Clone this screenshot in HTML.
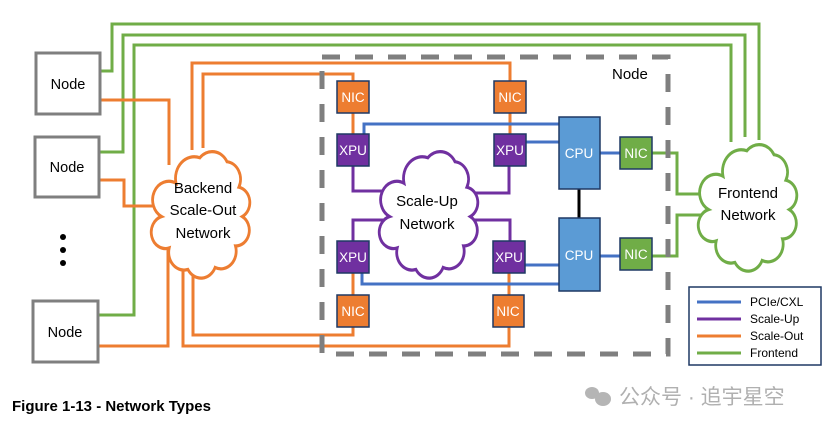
<!DOCTYPE html>
<html><head><meta charset="utf-8"><style>
html,body{margin:0;padding:0;background:#fff;}
svg{display:block;}
text{font-family:"Liberation Sans","Noto Sans CJK SC",sans-serif;}
</style></head><body>
<svg width="838" height="429" viewBox="0 0 838 429" xmlns="http://www.w3.org/2000/svg">
<defs>
<path id="cloud" d="M20,38 A22,22 0 0 1 48,12 A20,20 0 0 1 80,16 A18,18 0 0 1 94,42 A16,16 0 0 1 98,72 A16,16 0 0 1 90,102 A18,18 0 0 1 66,124 A18,18 0 0 1 34,126 A18,18 0 0 1 12,104 A16,16 0 0 1 3,72 A16,16 0 0 1 20,38 Z"/>
</defs>
<g fill="none" stroke-width="3">
<polyline stroke="#70ad47" points="100,71 112,71 112,24 759,24 759,140"/>
<polyline stroke="#70ad47" points="99,152 123,152 123,35 745,35 745,137"/>
<polyline stroke="#70ad47" points="98,315 134,315 134,45 731,45 731,142"/>
<polyline stroke="#70ad47" points="652,153 677,153 677,194 702,194"/>
<polyline stroke="#70ad47" points="652,256 677,256 677,215 702,215"/>
<polyline stroke="#ed7d31" points="100,100 169,100 169,165"/>
<polyline stroke="#ed7d31" points="99,180 124,180 124,206 156,206"/>
<polyline stroke="#ed7d31" points="98,346 168,346 168,245"/>
<polyline stroke="#ed7d31" points="192,150 192,63 510,63 510,81"/>
<polyline stroke="#ed7d31" points="203,148 203,74 353,74 353,81"/>
<polyline stroke="#ed7d31" points="193,260 193,335 353,335 353,327"/>
<polyline stroke="#ed7d31" points="183,255 183,346 509,346 509,327"/>
<line stroke="#ed7d31" x1="353" y1="113" x2="353" y2="134"/>
<line stroke="#ed7d31" x1="510" y1="113" x2="510" y2="134"/>
<line stroke="#ed7d31" x1="353" y1="273" x2="353" y2="295"/>
<line stroke="#ed7d31" x1="509" y1="273" x2="509" y2="295"/>
<polyline stroke="#4472c4" points="364,134 364,124 559,124"/>
<line stroke="#4472c4" x1="526" y1="142" x2="559" y2="142"/>
<line stroke="#4472c4" x1="600" y1="153" x2="620" y2="153"/>
<line stroke="#4472c4" x1="525" y1="265" x2="559" y2="265"/>
<polyline stroke="#4472c4" points="362,273 362,284 559,284"/>
<line stroke="#4472c4" x1="600" y1="256" x2="620" y2="256"/>
<polyline stroke="#7030a0" points="353,166 353,191 395,191"/>
<polyline stroke="#7030a0" points="509,166 509,193 470,193"/>
<polyline stroke="#7030a0" points="353,241 353,220 395,220"/>
<polyline stroke="#7030a0" points="510,241 510,220 470,220"/>
<line stroke="#000" x1="579" y1="189" x2="579" y2="218"/>
</g>
<path d="M322,57 L668,57 L668,354 L322,354 Z" fill="none" stroke="#7f7f7f" stroke-width="5" stroke-dasharray="18,15"/>
<text x="612" y="79" font-size="15" fill="#000">Node</text>
<use href="#cloud" transform="translate(159,146) scale(0.85,0.98)" fill="#fff" stroke="#ed7d31" stroke-width="3.3"/>
<use href="#cloud" transform="translate(387,146) scale(0.85,0.98)" fill="#fff" stroke="#7030a0" stroke-width="3.3"/>
<use href="#cloud" transform="translate(706,139) scale(0.85,0.98)" fill="#fff" stroke="#70ad47" stroke-width="3.3"/>
<g font-size="15" fill="#000" text-anchor="middle">
<text x="203" y="193">Backend</text><text x="203" y="215">Scale-Out</text><text x="203" y="238">Network</text>
<text x="427" y="206">Scale-Up</text><text x="427" y="229">Network</text>
<text x="748" y="198">Frontend</text><text x="748" y="220">Network</text>
</g>
<g fill="#fff" stroke="#7f7f7f" stroke-width="3">
<rect x="36" y="53" width="64" height="61"/>
<rect x="35" y="137" width="64" height="60"/>
<rect x="33" y="301" width="65" height="61"/>
</g>
<g font-size="14.5" fill="#000" text-anchor="middle">
<text x="68" y="89">Node</text><text x="67" y="172">Node</text><text x="65" y="337">Node</text>
</g>
<circle cx="63" cy="237" r="3" fill="#000"/><circle cx="63" cy="250" r="3" fill="#000"/><circle cx="63" cy="263" r="3" fill="#000"/>
<g stroke="#1f3864" stroke-width="1.5">
<rect x="337" y="81" width="32" height="32" fill="#ed7d31"/>
<rect x="494" y="81" width="32" height="32" fill="#ed7d31"/>
<rect x="337" y="295" width="32" height="32" fill="#ed7d31"/>
<rect x="493" y="295" width="31" height="32" fill="#ed7d31"/>
<rect x="337" y="134" width="32" height="32" fill="#7030a0"/>
<rect x="494" y="134" width="32" height="32" fill="#7030a0"/>
<rect x="337" y="241" width="32" height="32" fill="#7030a0"/>
<rect x="493" y="241" width="32" height="32" fill="#7030a0"/>
<rect x="559" y="117" width="41" height="72" fill="#5b9bd5"/>
<rect x="559" y="218" width="41" height="73" fill="#5b9bd5"/>
<rect x="620" y="137" width="32" height="32" fill="#70ad47"/>
<rect x="620" y="238" width="32" height="32" fill="#70ad47"/>
</g>
<g font-size="13.5" fill="#fff" text-anchor="middle">
<text x="353" y="102">NIC</text><text x="510" y="102">NIC</text>
<text x="353" y="316">NIC</text><text x="508" y="316">NIC</text>
<text x="353" y="155">XPU</text><text x="510" y="155">XPU</text>
<text x="353" y="262">XPU</text><text x="509" y="262">XPU</text>
<text x="579" y="158">CPU</text><text x="579" y="260">CPU</text>
<text x="636" y="158">NIC</text><text x="636" y="259">NIC</text>
</g>
<rect x="689" y="287" width="132" height="78" fill="#fff" stroke="#1f3864" stroke-width="1.5"/>
<g stroke-width="3">
<line x1="697" y1="302" x2="741" y2="302" stroke="#4472c4"/>
<line x1="697" y1="319" x2="741" y2="319" stroke="#7030a0"/>
<line x1="697" y1="336" x2="741" y2="336" stroke="#ed7d31"/>
<line x1="697" y1="353" x2="741" y2="353" stroke="#70ad47"/>
</g>
<g font-size="12" fill="#000">
<text x="750" y="306">PCIe/CXL</text><text x="750" y="323">Scale-Up</text>
<text x="750" y="340">Scale-Out</text><text x="750" y="357">Frontend</text>
</g>
<text x="12" y="411" font-size="15" font-weight="bold" fill="#000">Figure 1-13 - Network Types</text>
<ellipse cx="592" cy="393" rx="7" ry="6" fill="#b5b5b5"/>
<ellipse cx="603" cy="399" rx="8" ry="7" fill="#b5b5b5"/>
<text x="619" y="404" font-size="21" fill="#b0b0b0">公众号 · 追宇星空</text>
</svg>
</body></html>
